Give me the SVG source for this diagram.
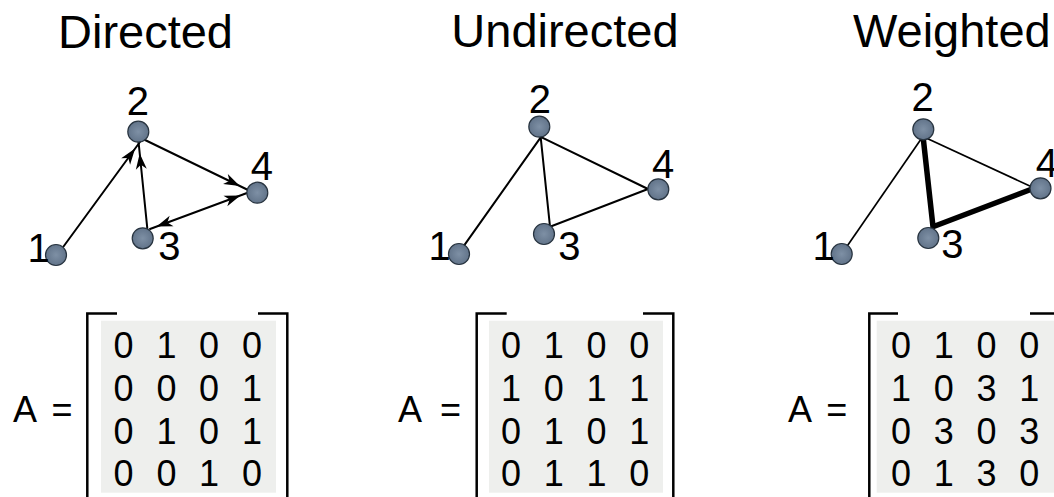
<svg xmlns="http://www.w3.org/2000/svg" width="1054" height="497" viewBox="0 0 1054 497">
  <defs>
    <radialGradient id="nodeFill" cx="50%" cy="50%" r="55%">
      <stop offset="0" stop-color="#7e90a5"/>
      <stop offset="1" stop-color="#5f7187"/>
    </radialGradient>
    <!-- barbed arrowhead, tip at origin, pointing along +x -->
    <path id="arrowHead" d="M0,0 L-16,-5.5 L-11.5,0 L-16,5.5 Z" fill="#000"/>
  </defs>
  <style>
    .title { font-family: "Liberation Sans", Arial, sans-serif; font-size: 47px; fill: #000; }
    .label { font-family: "Liberation Sans", Arial, sans-serif; font-size: 40px; fill: #000; }
    .cell  { font-family: "Liberation Sans", Arial, sans-serif; font-size: 36px; fill: #000; text-anchor: middle; }
    .eq    { font-family: "Liberation Sans", Arial, sans-serif; font-size: 36px; fill: #000; }
    .node  { fill: url(#nodeFill); stroke: #27333f; stroke-width: 1.2; }
    .edge  { stroke: #000; stroke-width: 2; fill: none; stroke-linecap: round; }
    .thin  { stroke: #000; stroke-width: 1.7; fill: none; }
    .thick { stroke: #000; stroke-width: 5.5; fill: none; stroke-linejoin: miter; }
    .box   { fill: #eeefed; }
    .bracket { stroke: #000; stroke-width: 2.5; fill: none; }
  </style>

  <!-- titles -->
  <text class="title" x="58" y="48.3">Directed</text>
  <text class="title" x="451.3" y="46.7">Undirected</text>
  <text class="title" x="853" y="46.7">Weighted</text>

  <!-- connectors -->
  <g id="connectors">
    <!-- directed graph -->
    <g id="edges-directed">
      <line class="edge" x1="63.5" y1="246.5" x2="141" y2="140.5"/>
      <use href="#arrowHead" transform="translate(135.1,148.6) rotate(-53.8)"/>
      <line class="edge" x1="147.3" y1="228.3" x2="138.5" y2="141.5"/>
      <use href="#arrowHead" transform="translate(139.7,153.4) rotate(-95.8)"/>
      <line class="edge" x1="143" y1="139" x2="247" y2="189.5"/>
      <use href="#arrowHead" transform="translate(239.8,186) rotate(25.9)"/>
      <line class="edge" x1="150" y1="229" x2="247" y2="193"/>
      <use href="#arrowHead" transform="translate(240.4,195.4) rotate(-20.4)"/>
      <use href="#arrowHead" transform="translate(156.6,226.6) rotate(159.6)"/>
    </g>
    <!-- undirected graph -->
    <g id="edges-undirected">
      <line class="edge" x1="463.3" y1="246.7" x2="540.7" y2="137.3"/>
      <line class="edge" x1="540.7" y1="137.3" x2="550" y2="226.7"/>
      <line class="edge" x1="541.7" y1="137.3" x2="648" y2="189"/>
      <line class="edge" x1="550" y1="226.7" x2="648" y2="189"/>
    </g>
    <!-- weighted graph -->
    <g id="edges-weighted">
      <line class="thin" x1="846.7" y1="246.7" x2="922.5" y2="137"/>
      <line class="thin" x1="924" y1="137" x2="1032" y2="187"/>
      <path class="thick" d="M923,136 L933,226.7 L1032,189"/>
    </g>
  </g>

  <!-- directed graph nodes -->
  <g id="directed-n1"><circle class="node" cx="56" cy="255" r="10.5"/><text class="label" x="27.6" y="261.5">1</text></g>
  <g id="directed-n2"><circle class="node" cx="138.3" cy="131.7" r="10.5"/><text class="label" x="126.8" y="115">2</text></g>
  <g id="directed-n3"><circle class="node" cx="142.7" cy="238.3" r="10.5"/><text class="label" x="158.3" y="260">3</text></g>
  <g id="directed-n4"><circle class="node" cx="257.3" cy="192.7" r="10.5"/><text class="label" x="250.7" y="180">4</text></g>

  <!-- undirected graph nodes -->
  <g id="undirected-n1"><circle class="node" cx="459" cy="254" r="10.5"/><text class="label" x="428.5" y="260">1</text></g>
  <g id="undirected-n2"><circle class="node" cx="539.3" cy="126.7" r="10.5"/><text class="label" x="528.8" y="113">2</text></g>
  <g id="undirected-n3"><circle class="node" cx="544" cy="234" r="10.5"/><text class="label" x="558.3" y="260">3</text></g>
  <g id="undirected-n4"><circle class="node" cx="658.3" cy="189.3" r="10.5"/><text class="label" x="652" y="178">4</text></g>

  <!-- weighted graph nodes -->
  <g id="weighted-n1"><circle class="node" cx="841.7" cy="254" r="10.5"/><text class="label" x="812.4" y="260">1</text></g>
  <g id="weighted-n2"><circle class="node" cx="923.3" cy="129.3" r="10.5"/><text class="label" x="911.5" y="111">2</text></g>
  <g id="weighted-n3"><circle class="node" cx="928.3" cy="238" r="10.5"/><text class="label" x="941.3" y="258">3</text></g>
  <g id="weighted-n4"><circle class="node" cx="1040.5" cy="188.3" r="10.5"/><text class="label" x="1035.7" y="177">4</text></g>

  <!-- adjacency matrix, directed -->
  <g id="matrix-directed">
    <text class="eq" x="13" y="422">A</text>
    <text class="eq" x="51.5" y="422">=</text>
    <rect class="box" x="101" y="320.7" width="175" height="172"/>
    <path class="bracket" d="M117,313.5 H87.3 V497"/>
    <path class="bracket" d="M258,313.5 H287.3 V497"/>
    <text class="cell" x="123.5" y="358.3">0</text><text class="cell" x="166.5" y="358.3">1</text><text class="cell" x="209" y="358.3">0</text><text class="cell" x="252" y="358.3">0</text>
    <text class="cell" x="123.5" y="401">0</text><text class="cell" x="166.5" y="401">0</text><text class="cell" x="209" y="401">0</text><text class="cell" x="252" y="401">1</text>
    <text class="cell" x="123.5" y="443.7">0</text><text class="cell" x="166.5" y="443.7">1</text><text class="cell" x="209" y="443.7">0</text><text class="cell" x="252" y="443.7">1</text>
    <text class="cell" x="123.5" y="486.4">0</text><text class="cell" x="166.5" y="486.4">0</text><text class="cell" x="209" y="486.4">1</text><text class="cell" x="252" y="486.4">0</text>
  </g>

  <!-- adjacency matrix, undirected -->
  <g id="matrix-undirected">
    <text class="eq" x="398" y="422">A</text>
    <text class="eq" x="440" y="422">=</text>
    <rect class="box" x="489" y="320.7" width="174" height="172"/>
    <path class="bracket" d="M506.7,313.5 H476.7 V497"/>
    <path class="bracket" d="M643,313.5 H673.3 V497"/>
    <text class="cell" x="511" y="358.3">0</text><text class="cell" x="553.8" y="358.3">1</text><text class="cell" x="596.5" y="358.3">0</text><text class="cell" x="639.3" y="358.3">0</text>
    <text class="cell" x="511" y="401">1</text><text class="cell" x="553.8" y="401">0</text><text class="cell" x="596.5" y="401">1</text><text class="cell" x="639.3" y="401">1</text>
    <text class="cell" x="511" y="443.7">0</text><text class="cell" x="553.8" y="443.7">1</text><text class="cell" x="596.5" y="443.7">0</text><text class="cell" x="639.3" y="443.7">1</text>
    <text class="cell" x="511" y="486.4">0</text><text class="cell" x="553.8" y="486.4">1</text><text class="cell" x="596.5" y="486.4">1</text><text class="cell" x="639.3" y="486.4">0</text>
  </g>

  <!-- adjacency matrix, weighted -->
  <g id="matrix-weighted">
    <text class="eq" x="788" y="422">A</text>
    <text class="eq" x="826.3" y="422">=</text>
    <rect class="box" x="876.7" y="320.7" width="190" height="172"/>
    <path class="bracket" d="M898,313.5 H869.3 V497"/>
    <path class="bracket" d="M1030,313.5 H1066 V497"/>
    <text class="cell" x="901" y="358.3">0</text><text class="cell" x="943.8" y="358.3">1</text><text class="cell" x="986.5" y="358.3">0</text><text class="cell" x="1029.3" y="358.3">0</text>
    <text class="cell" x="901" y="401">1</text><text class="cell" x="943.8" y="401">0</text><text class="cell" x="986.5" y="401">3</text><text class="cell" x="1029.3" y="401">1</text>
    <text class="cell" x="901" y="443.7">0</text><text class="cell" x="943.8" y="443.7">3</text><text class="cell" x="986.5" y="443.7">0</text><text class="cell" x="1029.3" y="443.7">3</text>
    <text class="cell" x="901" y="486.4">0</text><text class="cell" x="943.8" y="486.4">1</text><text class="cell" x="986.5" y="486.4">3</text><text class="cell" x="1029.3" y="486.4">0</text>
  </g>
</svg>
